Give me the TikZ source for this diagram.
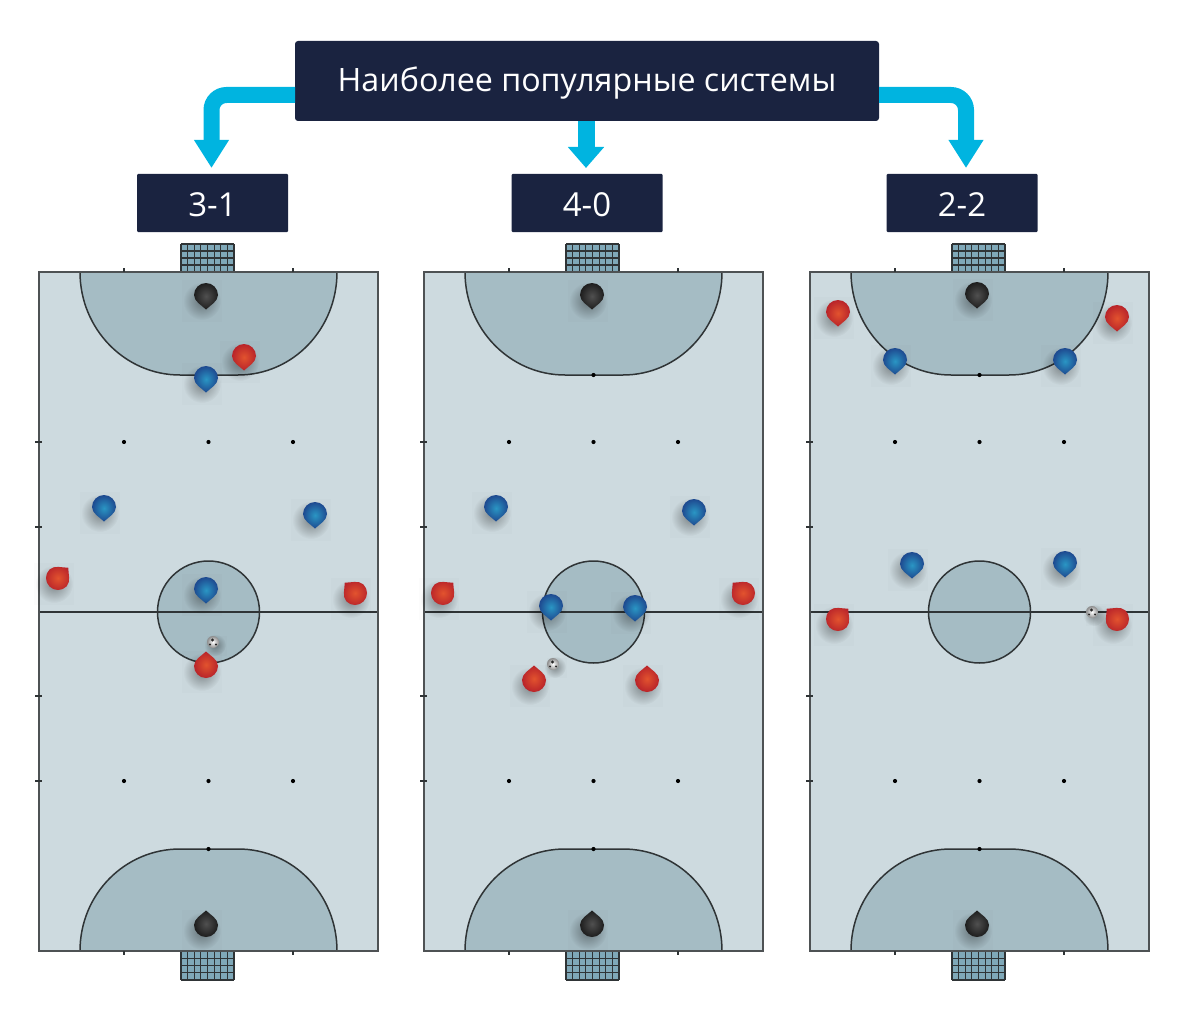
\documentclass[tikz,border=0pt]{standalone}
\usepackage{fontspec}
\setmainfont{Open Sans}
\usetikzlibrary{arrows.meta,fadings,calc}
\definecolor{navy}{HTML}{1A2340}
\definecolor{flow}{HTML}{00B4E0}
\definecolor{courtlight}{HTML}{CDDADF}
\definecolor{courtzone}{HTML}{A5BCC4}
\definecolor{netfill}{HTML}{7FA8B8}
\definecolor{linedark}{HTML}{2F3436}
\definecolor{bluein}{HTML}{2A96C4}
\definecolor{blueout}{HTML}{1E4A90}
\definecolor{redin}{HTML}{E2532E}
\definecolor{redout}{HTML}{B9242A}
\definecolor{blackin}{HTML}{505050}
\definecolor{blackout}{HTML}{1E1E1E}
\tikzfading[name=softdot,inner color=transparent!0,outer color=transparent!100]
\tikzset{
  x=1pt,y=-1pt,
  titlebox/.style={fill=navy,text=white,rounded corners=3pt,minimum width=584pt,minimum height=80pt,inner sep=0pt,text height=21pt,text depth=0pt,font=\fontsize{32.2}{36}\selectfont},
  subbox/.style={fill=navy,text=white,rounded corners=1pt,minimum width=151pt,minimum height=58pt,inner sep=0pt,text height=26pt,text depth=0pt,font=\fontsize{33}{36}\selectfont},
  flowarrow/.style={draw=flow,line width=16pt,rounded corners=15pt,-{Triangle[width=33pt,length=28pt]},shorten >=6pt},
  flowshort/.style={draw=flow,line width=17pt,-{Triangle[width=35pt,length=21pt]},shorten >=6pt},
  border/.style={draw=linedark!85!white,line width=1.8pt},
  courtline/.style={draw=linedark,line width=1.5pt},
  tickmark/.style={draw=linedark,line width=1.2pt},
  netline/.style={draw=linedark,line width=1.2pt},
  spot/.style={fill=black},
  pics/mk/.style n args={3}{code={
    \begin{scope}[x=1pt,y=1pt]
      \fill[black,opacity=.012] (-24,-27) rectangle (16,15);
      \fill[black,opacity=.38,path fading=softdot] (-4,-6) circle (19);
      \begin{scope}[rotate=#3]
        \shade[inner color=#1,outer color=#2]
          (0,-14.5) .. controls (-4,-10.5) and (-12,-6.5) .. (-12,0)
          arc[start angle=180,end angle=0,radius=12]
          .. controls (12,-6.5) and (4,-10.5) .. (0,-14.5) -- cycle;
      \end{scope}
    \end{scope}}},
  pics/ball/.style={code={
    \begin{scope}[x=1pt,y=1pt]
      \fill[black,opacity=.012] (-6,-14) rectangle (14,6);
      \fill[black,opacity=.35,path fading=softdot] (2,-3) circle (11);
      \shade[inner color=white,outer color=black!45] (0,0) circle (6);
      \fill[black!85] (-.5,2) circle (1.6) (-3,-2.4) circle (1.1) (3,-2.4) circle (1.1);
    \end{scope}}},
  pics/court/.style={code={
    \fill[courtlight] (0,0) rectangle (339,679);
    % penalty zones
    \path[fill=courtzone,courtline] (41,0) .. controls (41,57) and (86,103) .. (141,103) -- (199,103) .. controls (254,103) and (298,57) .. (298,0);
    \path[fill=courtzone,courtline] (41,679) .. controls (41,622) and (86,577) .. (141,577) -- (199,577) .. controls (254,577) and (298,622) .. (298,679);
    % centre
    \path[fill=courtzone,courtline] (169.5,340) circle[radius=51pt];
    \draw[courtline] (0,340) -- (339,340);
    % goals
    \fill[netfill] (142,-28) rectangle (195,0);
    \foreach \gx in {0,...,8}{\draw[netline] (142+6.625*\gx,-28) -- (142+6.625*\gx,0);}
    \foreach \gy in {0,...,4}{\draw[netline] (142,-28+7*\gy) -- (195,-28+7*\gy);}
    \fill[netfill] (142,679) rectangle (195,708);
    \foreach \gx in {0,...,8}{\draw[netline] (142+6.625*\gx,679) -- (142+6.625*\gx,708);}
    \foreach \gy in {0,...,4}{\draw[netline] (142,679+7.25*\gy) -- (195,679+7.25*\gy);}
    \draw[border] (0,0) rectangle (339,679);
    % ticks
    \foreach \tx in {85,254}{
      \draw[tickmark] (\tx,-4) -- (\tx,0);
      \draw[tickmark] (\tx,679) -- (\tx,683);
      \fill[spot] (\tx,170) circle[radius=2.1pt];
      \fill[spot] (\tx,509) circle[radius=2.1pt];
    }
    \fill[spot] (169.5,170) circle[radius=2.1pt];
    \fill[spot] (169.5,509) circle[radius=2.1pt];
    \fill[spot] (169.5,103) circle[radius=2.1pt];
    \fill[spot] (169.5,577) circle[radius=2.1pt];
    \foreach \ty in {170,255,424,509}{\draw[tickmark] (-4,\ty) -- (3,\ty);}
  }}
}
\begin{document}
\begin{tikzpicture}
\useasboundingbox (0,0) rectangle (1200,1030);
\coordinate (anchorL) at (295,95);
\coordinate (anchorR) at (879,95);
\node[titlebox] (title) at (587,81) {Наиболее популярные системы};
\node[subbox] (sysa) at (212.5,203) {3-1};
\node[subbox] (sysb) at (587,203) {4-0};
\node[subbox] (sysc) at (962,203) {2-2};
\draw[flowarrow] (anchorL) -- (211.5,95) -- (211.5,174);
\draw[flowarrow] (anchorR) -- (966,95) -- (966,174);
\draw[flowshort] (title.south -| 586,0) -- (586,174);
\pic at (39,272) {court};
\pic at (424,272) {court};
\pic at (810,272) {court};
% court 1
\pic at (206,295) {mk={blackin}{blackout}{0}};
\pic at (206,925) {mk={blackin}{blackout}{180}};
\pic at (244,356) {mk={redin}{redout}{0}};
\pic at (206,378) {mk={bluein}{blueout}{0}};
\pic at (104,507) {mk={bluein}{blueout}{0}};
\pic at (315,514) {mk={bluein}{blueout}{0}};
\pic at (58,578) {mk={redin}{redout}{135}};
\pic at (355,593) {mk={redin}{redout}{-135}};
\pic at (206,589) {mk={bluein}{blueout}{0}};
\pic at (206,666) {mk={redin}{redout}{180}};
\pic at (213,642) {ball};
% court 2
\pic at (592,295) {mk={blackin}{blackout}{0}};
\pic at (592,925) {mk={blackin}{blackout}{180}};
\pic at (496,507) {mk={bluein}{blueout}{0}};
\pic at (694,511) {mk={bluein}{blueout}{0}};
\pic at (443,593) {mk={redin}{redout}{135}};
\pic at (743,593) {mk={redin}{redout}{-135}};
\pic at (551,606) {mk={bluein}{blueout}{0}};
\pic at (635,607) {mk={bluein}{blueout}{0}};
\pic at (534,680) {mk={redin}{redout}{180}};
\pic at (647,680) {mk={redin}{redout}{180}};
\pic at (553,664) {ball};
% court 3
\pic at (977,294) {mk={blackin}{blackout}{0}};
\pic at (977,925) {mk={blackin}{blackout}{180}};
\pic at (838,312) {mk={redin}{redout}{0}};
\pic at (1117,317) {mk={redin}{redout}{0}};
\pic at (895,360) {mk={bluein}{blueout}{0}};
\pic at (1065,360) {mk={bluein}{blueout}{0}};
\pic at (912,564) {mk={bluein}{blueout}{0}};
\pic at (1065,563) {mk={bluein}{blueout}{0}};
\pic at (838,619) {mk={redin}{redout}{135}};
\pic at (1117,619) {mk={redin}{redout}{-135}};
\pic at (1092,612) {ball};
\end{tikzpicture}
\end{document}
